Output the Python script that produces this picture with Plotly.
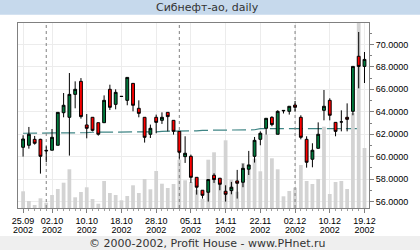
import plotly.graph_objects as go

dates = ["25.09","26.09","27.09","30.09","01.10","02.10","03.10","04.10","07.10","08.10",
         "09.10","10.10","11.10","14.10","15.10","16.10","17.10","18.10","21.10","22.10",
         "23.10","24.10","25.10","28.10","29.10","30.10","31.10","01.11","04.11","05.11",
         "06.11","08.11","11.11","12.11","13.11","14.11","15.11","18.11","19.11","20.11",
         "21.11","22.11","25.11","26.11","27.11","28.11","29.11","02.12","03.12","04.12",
         "05.12","06.12","09.12","10.12","11.12","13.12","16.12","17.12","18.12","19.12"]

open_ = [60.84,61.02,61.55,61.55,60.57,60.58,61.02,63.92,63.51,65.55,
         66.71,62.83,63.51,63.03,63.03,66.00,64.66,65.38,65.02,66.53,
         64.31,63.51,62.00,63.51,63.24,63.95,63.24,62.26,60.01,60.04,
         58.17,57.02,56.84,58.35,58.09,56.93,56.99,57.85,57.73,58.89,
         60.04,61.55,62.53,63.51,62.00,64.08,64.04,64.60,63.51,61.55,
         59.78,60.75,64.13,65.02,63.06,63.10,63.51,64.04,68.94,68.04]
high = [61.91,62.65,61.85,61.60,60.93,62.47,63.95,65.67,67.45,66.71,
        67.00,63.80,63.51,63.03,65.46,66.41,66.00,65.38,67.06,66.53,
        65.02,63.51,62.86,63.75,63.95,63.95,63.24,62.26,61.82,60.19,
        58.17,57.02,57.97,58.53,58.09,57.46,57.76,58.83,59.39,60.52,
        61.76,62.26,63.42,63.60,64.13,64.12,64.49,64.96,63.69,61.82,
        61.20,63.06,65.94,65.20,63.06,64.13,64.75,68.04,71.10,69.32]
low = [60.01,60.72,61.08,58.50,59.51,60.58,61.02,63.51,60.10,64.31,
       63.39,61.64,62.26,61.88,63.03,64.16,64.22,65.36,64.58,64.04,
       63.51,61.26,61.67,62.09,62.92,62.26,61.97,59.83,59.45,57.67,
       56.63,56.28,56.01,57.67,57.02,56.01,56.66,56.28,57.29,58.38,
       59.48,61.02,61.97,62.71,62.00,63.85,63.75,64.04,61.55,59.03,
       59.06,60.75,63.24,63.24,61.82,62.26,62.26,63.69,66.09,66.56]
close = [61.58,62.00,61.20,60.04,60.53,61.73,63.95,64.58,65.55,66.00,
         63.57,62.53,62.35,62.00,65.02,64.40,65.73,65.36,67.06,64.58,
         63.86,61.73,62.53,63.06,63.51,63.57,62.26,60.40,60.31,58.17,
         57.29,56.57,57.97,57.97,57.55,56.66,57.29,57.64,58.97,59.27,
         61.46,62.09,63.42,62.86,64.04,64.12,64.49,64.40,61.73,59.51,
         60.58,62.00,64.49,63.69,62.26,63.10,63.33,68.04,68.04,68.66]
volume = [16.7,7,3,9.7,5.3,13,19,25.3,38.7,10.7,
          16,20.7,9,4.3,27,15,13,7.7,12,22.7,
          15,29,18.7,37,24.3,20,24,48.3,27.7,26,
          18,9,48.3,55.7,28.3,67.7,28.3,16.3,45,38.7,
          49.3,36.7,73.3,49.7,38.7,11.7,17,20.3,43,27,
          24,29,81.3,14,26,27,19,95,190,60]
avg_line = [62.09,62.09,62.09,62.09,62.14,62.14,62.14,62.14,62.14,62.14,
            62.14,62.14,62.18,62.18,62.18,62.18,62.18,62.18,62.22,62.22,
            62.22,62.22,62.22,62.22,62.26,62.26,62.26,62.26,62.31,62.31,
            62.31,62.35,62.35,62.35,62.35,62.35,62.35,62.40,62.40,62.40,
            62.40,62.50,62.50,62.50,62.50,62.50,62.50,62.50,62.50,62.50,
            62.50,62.50,62.50,62.50,62.50,62.50,62.50,62.50,62.50,62.50]

tick_dates = ["25.09","02.10","10.10","18.10","28.10","05.11","14.11","22.11","02.12","10.12","19.12"]
year = "2002"
month_starts = ["01.10","01.11","02.12"]

idx = list(range(len(dates)))
tickvals = [dates.index(d) for d in tick_dates]
xr = [-0.88, 59.78]

vol_max = 185
vx, vy = [], []
for m in month_starts:
    k = dates.index(m)
    vx += [k, k, None]
    vy += [0, vol_max, None]

fig = go.Figure()
fig.add_trace(go.Scatter(x=idx, y=avg_line, mode="lines", yaxis="y",
                         line=dict(color="#3f8585", width=1.2, dash="14px,5px"),
                         hoverinfo="skip"))
fig.add_trace(go.Bar(x=idx, y=volume, yaxis="y2", marker_color="#d3d3d3",
                     marker_line_width=0, width=0.65))
fig.add_trace(go.Scatter(x=vx, y=vy, yaxis="y2", mode="lines",
                         line=dict(color="#808080", width=1, dash="3px,3px")))
fig.add_trace(go.Candlestick(x=idx, open=open_, high=high, low=low, close=close, yaxis="y3",
                             increasing=dict(fillcolor="#007a3d", line=dict(color="#000000", width=1)),
                             decreasing=dict(fillcolor="#ff0000", line=dict(color="#000000", width=1)),
                             whiskerwidth=0))
# year row of the tick labels on a twin x axis
fig.add_trace(go.Scatter(x=[tickvals[0]], y=[None], xaxis="x2", yaxis="y", mode="markers",
                         hoverinfo="skip"))

yr = [55.44, 71.9]
font_t = "Liberation Sans, Arial, sans-serif"
fig.update_layout(
    width=420, height=250,
    margin=dict(l=13, r=43, t=23, b=42, pad=0),
    paper_bgcolor="white", plot_bgcolor="white",
    showlegend=False, boxgap=0.3,
    font=dict(family=font_t, size=9, color="#000000"),
    xaxis=dict(range=xr, tickvals=tickvals, ticktext=tick_dates,
               showgrid=True, gridcolor="#ececec", gridwidth=1,
               ticks="outside", ticklen=4, tickcolor="#808080",
               showline=True, linecolor="#808080", linewidth=1, mirror=True,
               minor=dict(dtick=1, tick0=0, ticks="outside", ticklen=2, tickcolor="#a0a0a0", showgrid=False),
               rangeslider=dict(visible=False), zeroline=False,
               tickfont=dict(size=9, family=font_t)),
    xaxis2=dict(range=xr, tickvals=tickvals, ticktext=[year] * len(tickvals),
                overlaying="x", side="bottom", anchor="y", showgrid=False, showline=False,
                ticks="", ticklabelstandoff=15, zeroline=False,
                tickfont=dict(size=9, family=font_t)),
    yaxis=dict(side="right", range=yr, dtick=2, tick0=0, tickformat=".4f",
               showgrid=True, gridcolor="#ececec", gridwidth=1,
               ticks="outside", ticklen=4, tickcolor="#808080",
               minor=dict(dtick=1, ticks="outside", ticklen=2, tickcolor="#808080", showgrid=False),
               showline=True, linecolor="#808080", linewidth=1, mirror=True,
               zeroline=False, tickfont=dict(size=9, family=font_t)),
    yaxis2=dict(overlaying="y", range=[0, vol_max], visible=False),
    yaxis3=dict(overlaying="y", range=yr, visible=False),
    shapes=[
        dict(type="rect", xref="paper", yref="paper", x0=-0.1, x1=1.2,
             y0=1 + (23 - 14.7) / 185, y1=1.3, fillcolor="#c6d9ec", line_width=0, layer="below"),
        dict(type="rect", xref="paper", yref="paper", x0=-0.1, x1=1.2,
             y0=-0.4, y1=-(236 - 208) / 185, fillcolor="#efefef", line_width=0, layer="below"),
    ],
    annotations=[
        dict(text="Сибнефт-ао, daily", xref="paper", yref="paper",
             x=(210 - 13) / 364, y=1 + (23 - 7.5) / 185, showarrow=False,
             xanchor="center", yanchor="middle",
             font=dict(family="DejaVu Sans, sans-serif", size=11, color="#333333")),
        dict(text="© 2000-2002, Profit House - www.PHnet.ru", xref="paper", yref="paper",
             x=(210 - 13) / 364, y=-(243 - 208) / 185, showarrow=False,
             xanchor="center", yanchor="middle",
             font=dict(family="DejaVu Sans, sans-serif", size=11, color="#333333")),
    ],
)

fig.write_html("out.html")
